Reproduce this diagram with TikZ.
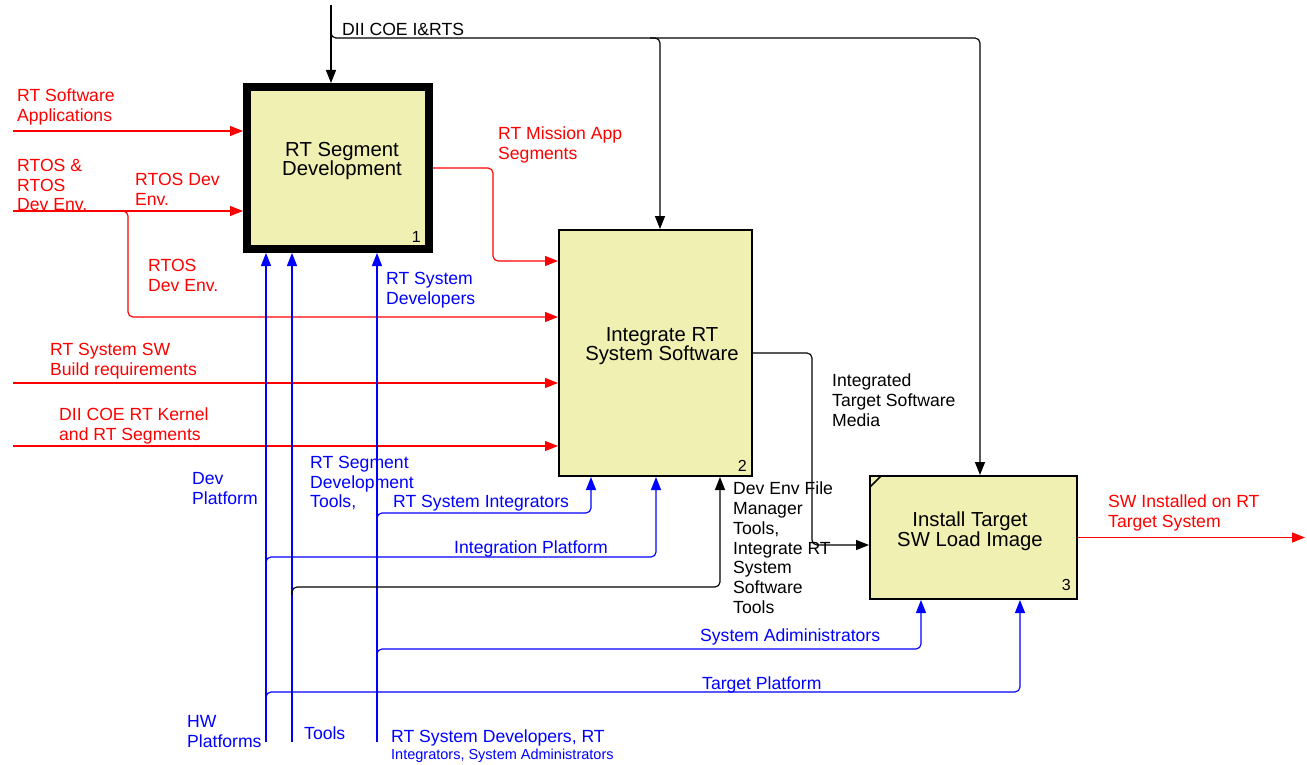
\documentclass[tikz,border=0pt]{standalone}
\usepackage{fontspec}
\setmainfont{Liberation Sans}
\usetikzlibrary{arrows.meta,calc}
\definecolor{boxfill}{RGB}{240,240,178}
\definecolor{idred}{RGB}{255,0,0}
\definecolor{idblue}{RGB}{0,0,255}
\newcommand\lblfont{\fontsize{17.6}{19.7}\selectfont}
\newcommand\boxfont{\fontsize{20.3}{19.5}\selectfont}
\newcommand\numfont{\fontsize{16}{18}\selectfont}
\newcommand\smallfont{\fontsize{14.5}{16}\selectfont}
\begin{document}
\begin{tikzpicture}[x=1pt,y=-1pt,
  conn/.style={line width=1.15pt, rounded corners=5pt},
  tipped/.style={-{Triangle[length=13pt,width=10pt]}},
  redc/.style={conn, draw=idred},
  bluec/.style={conn, draw=idblue},
  blackc/.style={conn, draw=black},
  actbox/.style={draw=black, fill=boxfill, inner sep=0pt, line width=2pt},
  lbl/.style={anchor=north west, inner sep=0pt, align=left, font=\lblfont},
  boxtxt/.style={anchor=north, inner sep=0pt, align=center, font=\boxfont},
  boxnum/.style={anchor=base east, inner sep=0pt, font=\numfont}]
\useasboundingbox (0,0) rectangle (1307,765);

% boxes
\node[actbox, line width=8pt, minimum width=182pt, minimum height=162pt] (b1) at (338,168) {};
\node[actbox, minimum width=193pt, minimum height=246pt] (b2) at (655.5,353) {};
\node[actbox, minimum width=207pt, minimum height=123pt] (b3) at (973.5,537.5) {};
\draw[line width=1.5pt] ($(b3.north west)+(1,12)$) -- ($(b3.north west)+(12,1)$);

\node[boxtxt] (t1) at (342,142) {RT Segment\\Development};
\node[boxtxt] (t2) at (662,327) {Integrate RT\\System Software};
\node[boxtxt] (t3) at (970,512) {Install Target\\SW Load Image};
\node[boxnum] (n1) at (421,242) {1};
\node[boxnum] (n2) at (747,471) {2};
\node[boxnum] (n3) at (1071,590) {3};

% coordinates
\coordinate (xL) at (13,0);
\coordinate (xc1) at (331,0);
\coordinate (xc2) at (660,0);
\coordinate (xc2s) at (650,0);
\coordinate (xc3) at (980,0);
\coordinate (xr2) at (128,0);
\coordinate (xr2s) at (118,0);
\coordinate (xm) at (493,0);
\coordinate (xo2) at (812,0);
\coordinate (xR) at (1305,0);
\coordinate (xhw) at (266,0);
\coordinate (xtl) at (292,0);
\coordinate (xdv) at (377,0);
\coordinate (xri) at (591,0);
\coordinate (xip) at (656,0);
\coordinate (xdt) at (720,0);
\coordinate (xsa) at (921,0);
\coordinate (xtp) at (1020,0);
\coordinate (ytop) at (0,5);
\coordinate (ycs) at (0,25);
\coordinate (yc) at (0,38);
\coordinate (y1) at (0,131);
\coordinate (y2) at (0,211);
\coordinate (y3) at (0,261);
\coordinate (y4) at (0,317);
\coordinate (y5) at (0,383);
\coordinate (y6) at (0,446);
\coordinate (yo2) at (0,545);
\coordinate (ybot) at (0,742);
\coordinate (yri) at (0,513);
\coordinate (yris) at (0,521);
\coordinate (yip) at (0,557);
\coordinate (yips) at (0,565);
\coordinate (ydt) at (0,587);
\coordinate (ydts) at (0,595);
\coordinate (ysa) at (0,649);
\coordinate (ysas) at (0,657);
\coordinate (ytp) at (0,692);
\coordinate (ytps) at (0,700);

% controls (black, top)
\draw[blackc, tipped] (xc1 |- ytop) -- (xc1 |- b1.north);
\draw[blackc, tipped] (xc1 |- ycs) -- (xc1 |- yc) -- (xc3 |- yc) -- (xc3 |- b3.north);
\draw[blackc, tipped] (xc2s |- yc) -- (xc2 |- yc) -- (xc2 |- b2.north);
\node[lbl] (tDII) at (342,23) {DII COE I\&RTS};

% red inputs
\draw[redc, tipped] (xL |- y1) -- (b1.west |- y1);
\draw[redc, tipped] (xL |- y2) -- (b1.west |- y2);
\draw[redc, tipped] (xr2s |- y2) -- (xr2 |- y2) -- (xr2 |- y4) -- (b2.west |- y4);
\draw[redc, tipped] (b1.east) -- (xm |- b1.east) -- (xm |- y3) -- (b2.west |- y3);
\draw[redc, tipped] (xL |- y5) -- (b2.west |- y5);
\draw[redc, tipped] (xL |- y6) -- (b2.west |- y6);
\draw[redc, tipped] (b3.east) -- (xR |- b3.east);

% black output of box 2
\draw[blackc, tipped] (b2.east) -- (xo2 |- b2.east) -- (xo2 |- yo2) -- (b3.west |- yo2);

% blue mechanisms
\draw[bluec, tipped] (xhw |- ybot) -- (xhw |- b1.south);
\draw[bluec, tipped] (xtl |- ybot) -- (xtl |- b1.south);
\draw[bluec, tipped] (xdv |- ybot) -- (xdv |- b1.south);
\draw[bluec, tipped] (xdv |- yris) -- (xdv |- yri) -- (xri |- yri) -- (xri |- b2.south);
\draw[bluec, tipped] (xhw |- yips) -- (xhw |- yip) -- (xip |- yip) -- (xip |- b2.south);
\draw[blackc, tipped] (xtl |- ydts) -- (xtl |- ydt) -- (xdt |- ydt) -- (xdt |- b2.south);
\draw[bluec, tipped] (xdv |- ysas) -- (xdv |- ysa) -- (xsa |- ysa) -- (xsa |- b3.south);
\draw[bluec, tipped] (xhw |- ytps) -- (xhw |- ytp) -- (xtp |- ytp) -- (xtp |- b3.south);

% labels
\node[lbl, text=idred] (tRSA) at (17,89) {RT Software\\Applications};
\node[lbl, text=idred] (tRTOS) at (17,159) {RTOS \&\\RTOS\\Dev Env.};
\node[lbl, text=idred] (tRDE) at (135,173) {RTOS Dev\\Env.};
\node[lbl, text=idred] (tMis) at (498,127) {RT Mission App\\Segments};
\node[lbl, text=idred] (tRDE2) at (148,259) {RTOS\\Dev Env.};
\node[lbl, text=idblue] (tDev) at (386,272) {RT System\\Developers};
\node[lbl, text=idred] (tBld) at (50,343) {RT System SW\\Build requirements};
\node[lbl, text=idred] (tKer) at (59,408) {DII COE RT Kernel\\and RT Segments};
\node[lbl] (tMed) at (832,374) {Integrated\\Target Software\\Media};
\node[lbl] (tDET) at (733,482) {Dev Env File\\Manager\\Tools,\\Integrate RT\\System\\Software\\Tools};
\node[lbl, text=idred] (tOut) at (1108,495) {SW Installed on RT\\Target System};
\node[lbl, text=idblue] (tDP) at (192,472) {Dev\\Platform};
\node[lbl, text=idblue] (tSDT) at (310,456) {RT Segment\\Development\\Tools,};
\node[lbl, text=idblue] (tRSI) at (393,495) {RT System Integrators};
\node[lbl, text=idblue] (tIP) at (454,541) {Integration Platform};
\node[lbl, text=idblue] (tSA) at (700,629) {System Adiministrators};
\node[lbl, text=idblue] (tTP) at (702,677) {Target Platform};
\node[lbl, text=idblue] (tHW) at (187,715) {HW\\Platforms};
\node[lbl, text=idblue] (tTl) at (304,727) {Tools};
\node[lbl, text=idblue] (tRSD) at (391,730) {RT System Developers, RT};
\node[lbl, text=idblue, font=\smallfont] (tRSD2) at (391,749) {Integrators, System Administrators};
\end{tikzpicture}
\end{document}
